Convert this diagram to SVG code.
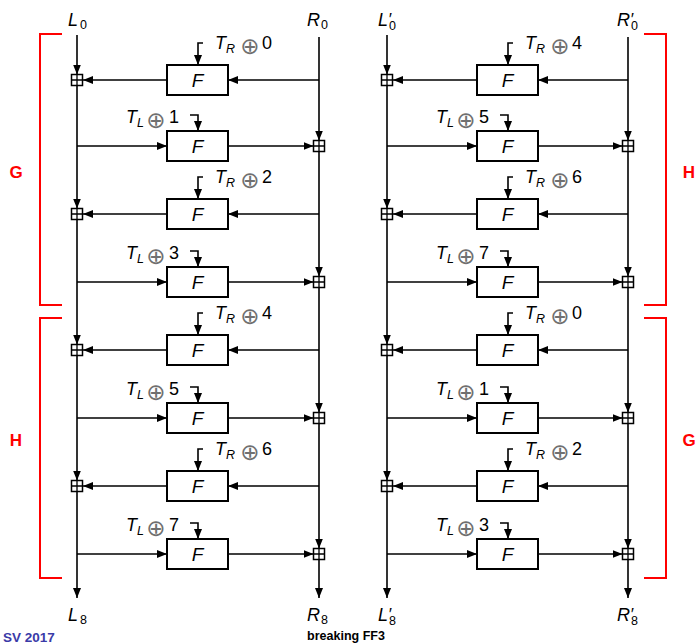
<svg xmlns="http://www.w3.org/2000/svg" width="698" height="644" viewBox="0 0 698 644">
<style>
  text { font-family: "Liberation Sans", Arial, sans-serif; fill: #000; }
  .it { font-style: italic; font-size: 18px; }
  .sub { font-size: 12.5px; }
  .pr { font-style: italic; font-size: 17px; }
  .num { font-size: 18px; }
  .op { font-family: "DejaVu Sans", sans-serif; font-size: 23px; fill: #707070; text-anchor: middle; }
  .f { font-style: italic; font-size: 19px; text-anchor: middle; }
  .box { fill: #fff; stroke: #000; stroke-width: 2; }
  .add rect { fill: #fff; stroke: #000; stroke-width: 1.5; }
  .add path { fill: none; stroke: #000; stroke-width: 1.3; }
  .wire { fill: none; stroke: #000; stroke-width: 1.6; }
  .arr { marker-end: url(#ah); }
  .brk { fill: none; stroke: #ff0000; stroke-width: 2; }
  .grp { font-weight: bold; font-size: 17px; fill: #ff0000; text-anchor: middle; }
  .foot { font-weight: bold; font-size: 12.5px; }
</style>
<defs>
  <marker id="ah" viewBox="0 0 10 8" refX="10" refY="4" markerWidth="10" markerHeight="8" markerUnits="userSpaceOnUse" orient="auto">
    <path d="M0,0L10,4L0,8z" fill="#000"/>
  </marker>
</defs>

<!-- connectors -->
<g id="connectors" class="wire">
  <!-- left network: L and R rails -->
  <path class="arr" d="M77,35V74.5"/>
  <path class="arr" d="M77,85.5V208.5"/>
  <path class="arr" d="M77,219.5V344.5"/>
  <path class="arr" d="M77,355.5V480.5"/>
  <path class="arr" d="M77,491.5V598"/>
  <path class="arr" d="M319,37V140.5"/>
  <path class="arr" d="M319,151.5V276.5"/>
  <path class="arr" d="M319,287.5V412.5"/>
  <path class="arr" d="M319,423.5V548.5"/>
  <path class="arr" d="M319,559.5V598"/>
  <!-- left network: round functions R to L -->
  <path class="arr" d="M319,80H228"/><path class="arr" d="M167,80H83"/>
  <path class="arr" d="M319,214H228"/><path class="arr" d="M167,214H83"/>
  <path class="arr" d="M319,350H228"/><path class="arr" d="M167,350H83"/>
  <path class="arr" d="M319,486H228"/><path class="arr" d="M167,486H83"/>
  <!-- left network: round functions L to R -->
  <path class="arr" d="M77,146H167"/><path class="arr" d="M228,146H313.5"/>
  <path class="arr" d="M77,282H167"/><path class="arr" d="M228,282H313.5"/>
  <path class="arr" d="M77,418H167"/><path class="arr" d="M228,418H313.5"/>
  <path class="arr" d="M77,554H167"/><path class="arr" d="M228,554H313.5"/>
  <!-- left network: tweak inputs -->
  <path class="arr" d="M203,43H198V65"/>
  <path class="arr" d="M190,115H198V131"/>
  <path class="arr" d="M203,177H198V199"/>
  <path class="arr" d="M190,251H198V267"/>
  <path class="arr" d="M203,313H198V335"/>
  <path class="arr" d="M190,387H198V403"/>
  <path class="arr" d="M203,449H198V471"/>
  <path class="arr" d="M190,523H198V539"/>

  <!-- right network: L' and R' rails -->
  <path class="arr" d="M387,35V74.5"/>
  <path class="arr" d="M387,85.5V208.5"/>
  <path class="arr" d="M387,219.5V344.5"/>
  <path class="arr" d="M387,355.5V480.5"/>
  <path class="arr" d="M387,491.5V598"/>
  <path class="arr" d="M628,37V140.5"/>
  <path class="arr" d="M628,151.5V276.5"/>
  <path class="arr" d="M628,287.5V412.5"/>
  <path class="arr" d="M628,423.5V548.5"/>
  <path class="arr" d="M628,559.5V598"/>
  <path class="arr" d="M628,80H538"/><path class="arr" d="M477,80H393"/>
  <path class="arr" d="M628,214H538"/><path class="arr" d="M477,214H393"/>
  <path class="arr" d="M628,350H538"/><path class="arr" d="M477,350H393"/>
  <path class="arr" d="M628,486H538"/><path class="arr" d="M477,486H393"/>
  <path class="arr" d="M387,146H477"/><path class="arr" d="M538,146H622.5"/>
  <path class="arr" d="M387,282H477"/><path class="arr" d="M538,282H622.5"/>
  <path class="arr" d="M387,418H477"/><path class="arr" d="M538,418H622.5"/>
  <path class="arr" d="M387,554H477"/><path class="arr" d="M538,554H622.5"/>
  <path class="arr" d="M513,43H508V65"/>
  <path class="arr" d="M500,115H508V131"/>
  <path class="arr" d="M513,177H508V199"/>
  <path class="arr" d="M500,251H508V267"/>
  <path class="arr" d="M513,313H508V335"/>
  <path class="arr" d="M500,387H508V403"/>
  <path class="arr" d="M513,449H508V471"/>
  <path class="arr" d="M500,523H508V539"/>
</g>

<!-- group brackets -->
<g id="brackets">
  <path class="brk" d="M62,34H40V305H62"/>
  <path class="brk" d="M62,318H40V578H62"/>
  <path class="brk" d="M644,34H666V305H644"/>
  <path class="brk" d="M644,318H666V578H644"/>
  <text class="grp" x="16" y="178">G</text>
  <text class="grp" x="16" y="446">H</text>
  <text class="grp" x="689" y="178">H</text>
  <text class="grp" x="689" y="446">G</text>
</g>

<!-- left network: endpoints -->
<g id="L0"><text class="it" x="68" y="26">L</text><text class="sub" x="80" y="29">0</text></g>
<g id="R0"><text class="it" x="307" y="26">R</text><text class="sub" x="321" y="29">0</text></g>
<g id="L8"><text class="it" x="68" y="621">L</text><text class="sub" x="80" y="624">8</text></g>
<g id="R8"><text class="it" x="307" y="621">R</text><text class="sub" x="321" y="624">8</text></g>

<!-- left network: round functions -->
<g id="F1"><rect class="box" x="167" y="65" width="61" height="30"/><text class="f" x="197.5" y="87">F</text></g>
<g id="F2"><rect class="box" x="167" y="131" width="61" height="30"/><text class="f" x="197.5" y="153">F</text></g>
<g id="F3"><rect class="box" x="167" y="199" width="61" height="30"/><text class="f" x="197.5" y="221">F</text></g>
<g id="F4"><rect class="box" x="167" y="267" width="61" height="30"/><text class="f" x="197.5" y="289">F</text></g>
<g id="F5"><rect class="box" x="167" y="335" width="61" height="30"/><text class="f" x="197.5" y="357">F</text></g>
<g id="F6"><rect class="box" x="167" y="403" width="61" height="30"/><text class="f" x="197.5" y="425">F</text></g>
<g id="F7"><rect class="box" x="167" y="471" width="61" height="30"/><text class="f" x="197.5" y="493">F</text></g>
<g id="F8"><rect class="box" x="167" y="539" width="61" height="30"/><text class="f" x="197.5" y="561">F</text></g>

<!-- left network: modular adders -->
<g id="A1" class="add"><rect x="71.5" y="74.5" width="11" height="11"/><path d="M71.5,80H82.5M77,74.5V85.5"/></g>
<g id="A2" class="add"><rect x="313.5" y="140.5" width="11" height="11"/><path d="M313.5,146H324.5M319,140.5V151.5"/></g>
<g id="A3" class="add"><rect x="71.5" y="208.5" width="11" height="11"/><path d="M71.5,214H82.5M77,208.5V219.5"/></g>
<g id="A4" class="add"><rect x="313.5" y="276.5" width="11" height="11"/><path d="M313.5,282H324.5M319,276.5V287.5"/></g>
<g id="A5" class="add"><rect x="71.5" y="344.5" width="11" height="11"/><path d="M71.5,350H82.5M77,344.5V355.5"/></g>
<g id="A6" class="add"><rect x="313.5" y="412.5" width="11" height="11"/><path d="M313.5,418H324.5M319,412.5V423.5"/></g>
<g id="A7" class="add"><rect x="71.5" y="480.5" width="11" height="11"/><path d="M71.5,486H82.5M77,480.5V491.5"/></g>
<g id="A8" class="add"><rect x="313.5" y="548.5" width="11" height="11"/><path d="M313.5,554H324.5M319,548.5V559.5"/></g>

<!-- left network: tweak labels -->
<g id="K1"><text class="it" x="215" y="49">T</text><text class="sub it" x="226" y="53" style="font-size:12.5px">R</text><text class="op" x="250" y="54">⊕</text><text class="num" x="262" y="49">0</text></g>
<g id="K2"><text class="it" x="126" y="123">T</text><text class="sub it" x="137" y="127" style="font-size:12.5px">L</text><text class="op" x="156" y="128">⊕</text><text class="num" x="169" y="123">1</text></g>
<g id="K3"><text class="it" x="215" y="183">T</text><text class="sub it" x="226" y="187" style="font-size:12.5px">R</text><text class="op" x="250" y="188">⊕</text><text class="num" x="262" y="183">2</text></g>
<g id="K4"><text class="it" x="126" y="259">T</text><text class="sub it" x="137" y="263" style="font-size:12.5px">L</text><text class="op" x="156" y="264">⊕</text><text class="num" x="169" y="259">3</text></g>
<g id="K5"><text class="it" x="215" y="319">T</text><text class="sub it" x="226" y="323" style="font-size:12.5px">R</text><text class="op" x="250" y="324">⊕</text><text class="num" x="262" y="319">4</text></g>
<g id="K6"><text class="it" x="126" y="395">T</text><text class="sub it" x="137" y="399" style="font-size:12.5px">L</text><text class="op" x="156" y="400">⊕</text><text class="num" x="169" y="395">5</text></g>
<g id="K7"><text class="it" x="215" y="455">T</text><text class="sub it" x="226" y="459" style="font-size:12.5px">R</text><text class="op" x="250" y="460">⊕</text><text class="num" x="262" y="455">6</text></g>
<g id="K8"><text class="it" x="126" y="531">T</text><text class="sub it" x="137" y="535" style="font-size:12.5px">L</text><text class="op" x="156" y="536">⊕</text><text class="num" x="169" y="531">7</text></g>

<!-- right network: endpoints (primed symbols as one text run each) -->
<g id="L0p"><text><tspan class="it" x="378" y="26">L</tspan><tspan class="pr" x="388" y="25">′</tspan><tspan class="sub" x="389" y="30">0</tspan></text></g>
<g id="R0p"><text><tspan class="it" x="617" y="26">R</tspan><tspan class="pr" x="630" y="25">′</tspan><tspan class="sub" x="631" y="30">0</tspan></text></g>
<g id="L8p"><text><tspan class="it" x="378" y="621">L</tspan><tspan class="pr" x="388" y="620">′</tspan><tspan class="sub" x="389" y="625">8</tspan></text></g>
<g id="R8p"><text><tspan class="it" x="617" y="621">R</tspan><tspan class="pr" x="630" y="620">′</tspan><tspan class="sub" x="631" y="625">8</tspan></text></g>

<!-- right network: round functions -->
<g id="Fp1"><rect class="box" x="477" y="65" width="61" height="30"/><text class="f" x="507.5" y="87">F</text></g>
<g id="Fp2"><rect class="box" x="477" y="131" width="61" height="30"/><text class="f" x="507.5" y="153">F</text></g>
<g id="Fp3"><rect class="box" x="477" y="199" width="61" height="30"/><text class="f" x="507.5" y="221">F</text></g>
<g id="Fp4"><rect class="box" x="477" y="267" width="61" height="30"/><text class="f" x="507.5" y="289">F</text></g>
<g id="Fp5"><rect class="box" x="477" y="335" width="61" height="30"/><text class="f" x="507.5" y="357">F</text></g>
<g id="Fp6"><rect class="box" x="477" y="403" width="61" height="30"/><text class="f" x="507.5" y="425">F</text></g>
<g id="Fp7"><rect class="box" x="477" y="471" width="61" height="30"/><text class="f" x="507.5" y="493">F</text></g>
<g id="Fp8"><rect class="box" x="477" y="539" width="61" height="30"/><text class="f" x="507.5" y="561">F</text></g>

<!-- right network: modular adders -->
<g id="Ap1" class="add"><rect x="381.5" y="74.5" width="11" height="11"/><path d="M381.5,80H392.5M387,74.5V85.5"/></g>
<g id="Ap2" class="add"><rect x="622.5" y="140.5" width="11" height="11"/><path d="M622.5,146H633.5M628,140.5V151.5"/></g>
<g id="Ap3" class="add"><rect x="381.5" y="208.5" width="11" height="11"/><path d="M381.5,214H392.5M387,208.5V219.5"/></g>
<g id="Ap4" class="add"><rect x="622.5" y="276.5" width="11" height="11"/><path d="M622.5,282H633.5M628,276.5V287.5"/></g>
<g id="Ap5" class="add"><rect x="381.5" y="344.5" width="11" height="11"/><path d="M381.5,350H392.5M387,344.5V355.5"/></g>
<g id="Ap6" class="add"><rect x="622.5" y="412.5" width="11" height="11"/><path d="M622.5,418H633.5M628,412.5V423.5"/></g>
<g id="Ap7" class="add"><rect x="381.5" y="480.5" width="11" height="11"/><path d="M381.5,486H392.5M387,480.5V491.5"/></g>
<g id="Ap8" class="add"><rect x="622.5" y="548.5" width="11" height="11"/><path d="M622.5,554H633.5M628,548.5V559.5"/></g>

<!-- right network: tweak labels -->
<g id="Kp1"><text class="it" x="525" y="49">T</text><text class="sub it" x="536" y="53" style="font-size:12.5px">R</text><text class="op" x="560" y="54">⊕</text><text class="num" x="572" y="49">4</text></g>
<g id="Kp2"><text class="it" x="436" y="123">T</text><text class="sub it" x="447" y="127" style="font-size:12.5px">L</text><text class="op" x="466" y="128">⊕</text><text class="num" x="479" y="123">5</text></g>
<g id="Kp3"><text class="it" x="525" y="183">T</text><text class="sub it" x="536" y="187" style="font-size:12.5px">R</text><text class="op" x="560" y="188">⊕</text><text class="num" x="572" y="183">6</text></g>
<g id="Kp4"><text class="it" x="436" y="259">T</text><text class="sub it" x="447" y="263" style="font-size:12.5px">L</text><text class="op" x="466" y="264">⊕</text><text class="num" x="479" y="259">7</text></g>
<g id="Kp5"><text class="it" x="525" y="319">T</text><text class="sub it" x="536" y="323" style="font-size:12.5px">R</text><text class="op" x="560" y="324">⊕</text><text class="num" x="572" y="319">0</text></g>
<g id="Kp6"><text class="it" x="436" y="395">T</text><text class="sub it" x="447" y="399" style="font-size:12.5px">L</text><text class="op" x="466" y="400">⊕</text><text class="num" x="479" y="395">1</text></g>
<g id="Kp7"><text class="it" x="525" y="455">T</text><text class="sub it" x="536" y="459" style="font-size:12.5px">R</text><text class="op" x="560" y="460">⊕</text><text class="num" x="572" y="455">2</text></g>
<g id="Kp8"><text class="it" x="436" y="531">T</text><text class="sub it" x="447" y="535" style="font-size:12.5px">L</text><text class="op" x="466" y="536">⊕</text><text class="num" x="479" y="531">3</text></g>

<!-- footer -->
<g id="footer">
  <text class="foot" x="3" y="642" style="fill:#3a3aa8;font-size:13.5px">SV 2017</text>
  <text class="foot" x="346" y="640" text-anchor="middle">breaking FF3</text>
</g>
</svg>
